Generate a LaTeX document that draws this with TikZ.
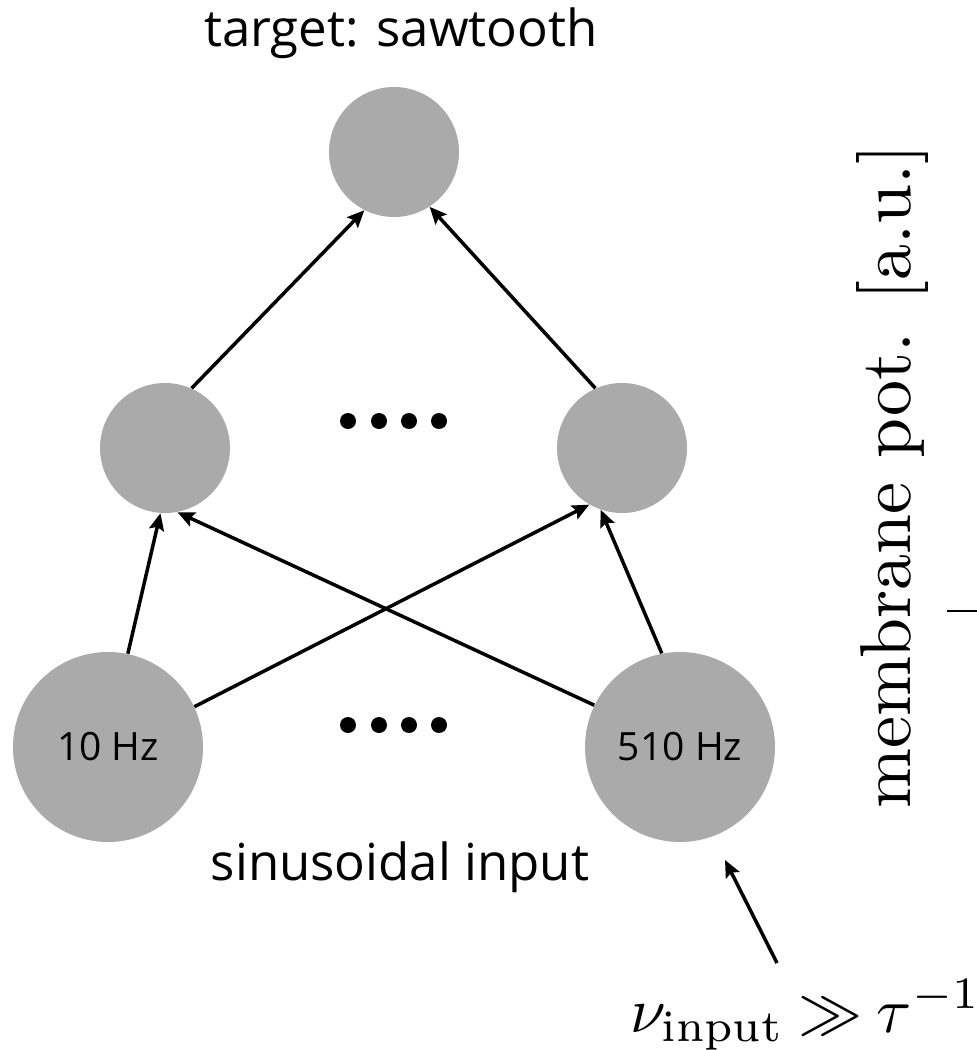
\documentclass[tikz,border=0pt]{standalone}
\usepackage{fontspec}
\newfontfamily\osans{Open Sans}
\usetikzlibrary{arrows.meta}
\definecolor{nodegray}{HTML}{AAAAAA}
\tikzset{
  neuron/.style={circle, fill=nodegray, draw=none, inner sep=0pt, minimum size=65pt},
  inneuron/.style={circle, fill=nodegray, draw=none, inner sep=0pt, minimum size=95pt, font=\osans\fontsize{19.5}{22}\selectfont},
  dotnode/.style={circle, fill=black, inner sep=0pt, minimum size=8pt},
  conn/.style={line width=1.75pt, -{Stealth[length=8.5pt,width=7.5pt,inset=1.5pt]}},
  sanslabel/.style={font=\osans\fontsize{25.5}{30}\selectfont, inner sep=0pt},
}
\begin{document}
\begin{tikzpicture}[x=0.5pt,y=-0.5pt]
\useasboundingbox (0,0) rectangle (977,1050);
% neurons
\node[neuron] (top) at (394,152) {};
\node[neuron] (ml) at (165,448) {};
\node[neuron] (mr) at (622,448) {};
\node[inneuron] (bl) at (108,747) {10 Hz};
\node[inneuron] (br) at (680,747) {510 Hz};
% dots
\foreach \i/\x in {1/348,2/379,3/409,4/439}{
  \node[dotnode] (md\i) at (\x,421) {};
  \node[dotnode] (bd\i) at (\x,725) {};
}
% connections
\draw[conn] (ml.66) -- (top.243);
\draw[conn] (mr.114) -- (top.303);
\draw[conn] (bl.78) -- (ml.266);
\draw[conn] (br.154) -- (ml.281);
\draw[conn] (bl.25) -- (mr.240);
\draw[conn] (br.101) -- (mr.251);
% labels
\node[sanslabel, anchor=base] (tlab) at (401,46) {target: sawtooth};
\node[sanslabel, anchor=base] (slab) at (400,880) {sinusoidal input};
\node[anchor=base west, inner sep=0pt, scale=3.2, font=\fontsize{10}{12}\selectfont] (nu) at (629,1032) {$\nu_{\mathrm{input}}\mkern4mu{\gg}\mkern4mu\tau^{-1}$};
\coordinate (tail) at (777,963);
\coordinate (tip) at (725,860);
\draw[conn] (tail) -- (tip);
% axis label (partially visible)
\node[rotate=90, anchor=base west, inner sep=0pt, scale=3.6, font=\fontsize{10}{12}\selectfont] (ylab) at (910,810) {membrane pot. [a.u.]};
\draw[line width=1pt] (947,611) -- (977,611);
\end{tikzpicture}
\end{document}
